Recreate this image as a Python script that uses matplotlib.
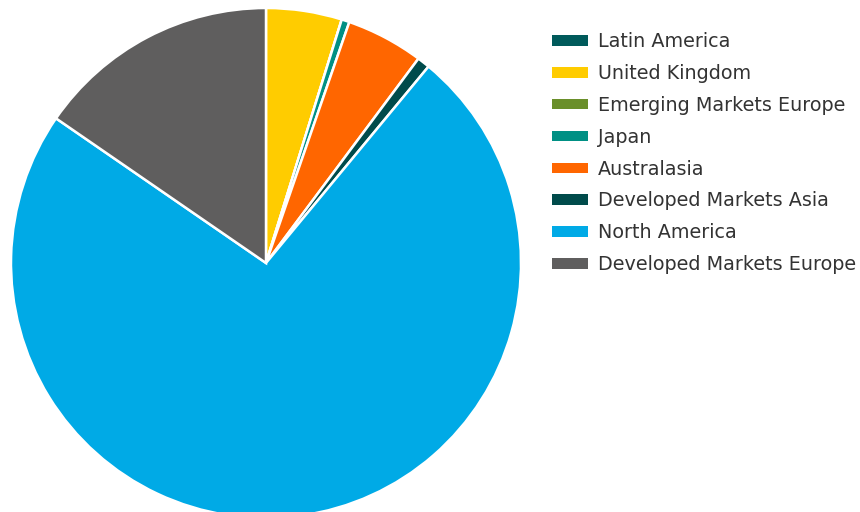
import matplotlib.pyplot as plt
from matplotlib.patches import Rectangle

# regional weights (%), clockwise from 12 o'clock
regions = ['Latin America', 'United Kingdom', 'Emerging Markets Europe', 'Japan',
           'Australasia', 'Developed Markets Asia', 'North America',
           'Developed Markets Europe']
weights = [0.0, 4.8, 0.0, 0.5, 4.9, 0.8, 73.6, 15.4]
colors = ['#005a5b', '#ffcc00', '#6a8f2a', '#009084', '#ff6600', '#004b4b',
          '#00aae6', '#5f5e5e']

W, H = 860, 512
cx, cy, r = 266, 263, 255  # pie centre / radius in pixels (from top)

fig = plt.figure(figsize=(W / 100, H / 100), dpi=100)
ax = fig.add_axes([0, 0, 1, 1])
ax.pie(weights, colors=colors, startangle=90, counterclock=False,
       wedgeprops=dict(edgecolor='white', linewidth=1.8))
ax.set_aspect('auto')
ax.set_xlim(-cx / r, (W - cx) / r)
ax.set_ylim(-(H - cy) / r, cy / r)
ax.axis('off')

handles = [Rectangle((0, 0), 1, 1, facecolor=c, edgecolor='none') for c in colors]
leg = fig.legend(handles, regions, loc='upper left',
                 bbox_to_anchor=(535 / W, 1 - 15 / H), frameon=False,
                 fontsize=13.8, handlelength=1.88, handleheight=0.47,
                 handletextpad=0.52, labelspacing=0.67)
for t in leg.get_texts():
    t.set_color('#333333')

fig.savefig('out.png', dpi=100)
